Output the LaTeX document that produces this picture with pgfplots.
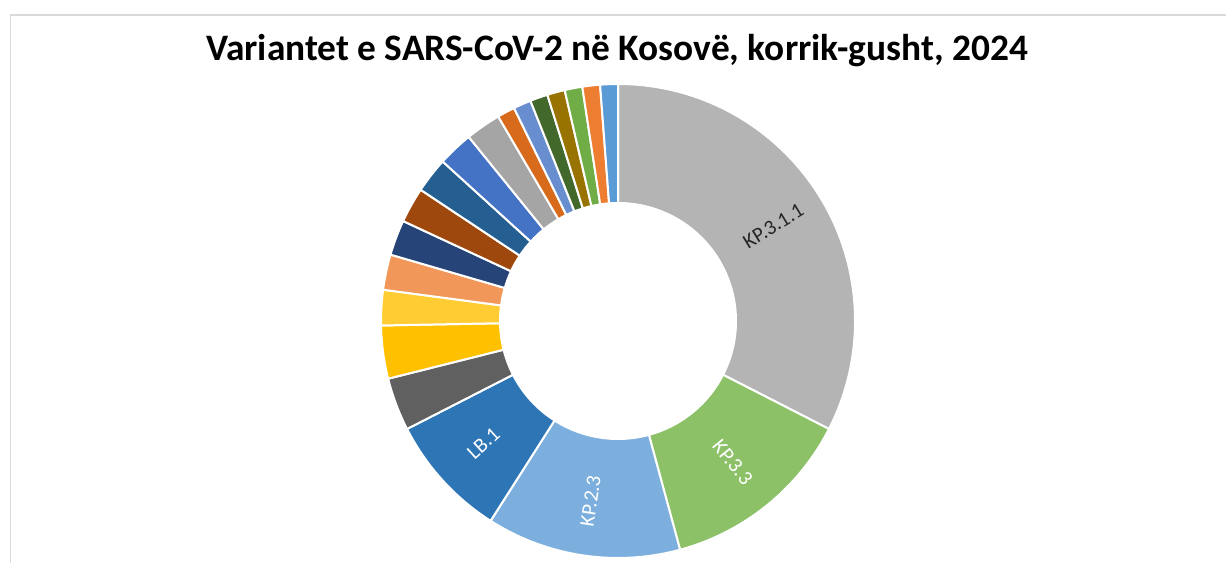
\documentclass[border=0pt]{standalone}
\usepackage{pgfplots}
\usepackage{pgfplotstable}
\pgfplotsset{compat=1.18}
\usepackage{fontspec}
\setmainfont{Carlito}
\definecolor{s1}{HTML}{B4B4B4}
\definecolor{s2}{HTML}{8CC168}
\definecolor{s3}{HTML}{7CAFDD}
\definecolor{s4}{HTML}{2E75B6}
\definecolor{s5}{HTML}{606060}
\definecolor{s6}{HTML}{FFC000}
\definecolor{s7}{HTML}{FFCD33}
\definecolor{s8}{HTML}{F1975A}
\definecolor{s9}{HTML}{264478}
\definecolor{s10}{HTML}{9E480E}
\definecolor{s11}{HTML}{255E91}
\definecolor{s12}{HTML}{4472C4}
\definecolor{s13}{HTML}{A5A5A5}
\definecolor{s14}{HTML}{D86A1C}
\definecolor{s15}{HTML}{698ED0}
\definecolor{s16}{HTML}{43682B}
\definecolor{s17}{HTML}{997300}
\definecolor{s18}{HTML}{70AD47}
\definecolor{s19}{HTML}{ED7D31}
\definecolor{s20}{HTML}{5B9BD5}
\definecolor{frame}{HTML}{D9D9D9}
\definecolor{lab1}{HTML}{262626}
\pgfplotstableread[col sep=comma]{
name,count,col,lab
KP.3.1.1,27,s1,lab1
KP.3.3,11,s2,white
KP.2.3,11,s3,white
LB.1,7,s4,white
v5,3,s5,white
v6,3,s6,white
v7,2,s7,white
v8,2,s8,white
v9,2,s9,white
v10,2,s10,white
v11,2,s11,white
v12,2,s12,white
v13,2,s13,white
v14,1,s14,white
v15,1,s15,white
v16,1,s16,white
v17,1,s17,white
v18,1,s18,white
v19,1,s19,white
v20,1,s20,white
}\data
\begin{document}
\begin{tikzpicture}
\begin{axis}[
  width=1226bp, height=563bp, scale only axis,
  xmin=0, xmax=1226, ymin=0, ymax=563,
  hide axis,
]
\addplot[draw=none] coordinates {(0,0) (1226,563)};
\draw[frame, line width=1.2bp] (axis cs:10.5,0) -- (axis cs:10.5,548) -- (axis cs:1226,548);
\node[font=\fontsize{37.5}{42}\selectfont\bfseries] at (axis cs:617,512) {Variantet e SARS-CoV-2 në Kosovë, korrik-gusht, 2024};
\def\cum{0}
\pgfplotsforeachungrouped \i in {0,...,19}{%
  \pgfplotstablegetelem{\i}{count}\of\data \let\cnt\pgfplotsretval
  \pgfplotstablegetelem{\i}{col}\of\data \let\col\pgfplotsretval
  \pgfplotstablegetelem{\i}{name}\of\data \let\nm\pgfplotsretval
  \pgfplotstablegetelem{\i}{lab}\of\data \let\lc\pgfplotsretval
  \pgfmathsetmacro\aS{90-\cum/83*360}%
  \pgfmathsetmacro\aE{90-(\cum+\cnt)/83*360}%
  \pgfmathsetmacro\aM{(\aS+\aE)/2}%
  \pgfmathsetmacro\rot{\aM<-90 ? \aM+180 : \aM}%
  \edef\temp{\noexpand\fill[\col, draw=white, line width=2bp] (axis cs:618,242) ++(\aS:237bp) arc[start angle=\aS, end angle=\aE, radius=237bp] -- ++(\aE:-119bp) arc[start angle=\aE, end angle=\aS, radius=118bp] -- cycle;}%
  \temp
  \ifnum\i<4
    \edef\temp{\noexpand\node[text=\lc, rotate=\rot, inner sep=0pt, font=\noexpand\fontsize{21}{24}\noexpand\selectfont] at ([shift={(\aM:182bp)}]axis cs:618,242) {\nm};}%
    \temp
  \fi
  \pgfmathsetmacro\cum{\cum+\cnt}%
}
\end{axis}
\end{tikzpicture}
\end{document}
